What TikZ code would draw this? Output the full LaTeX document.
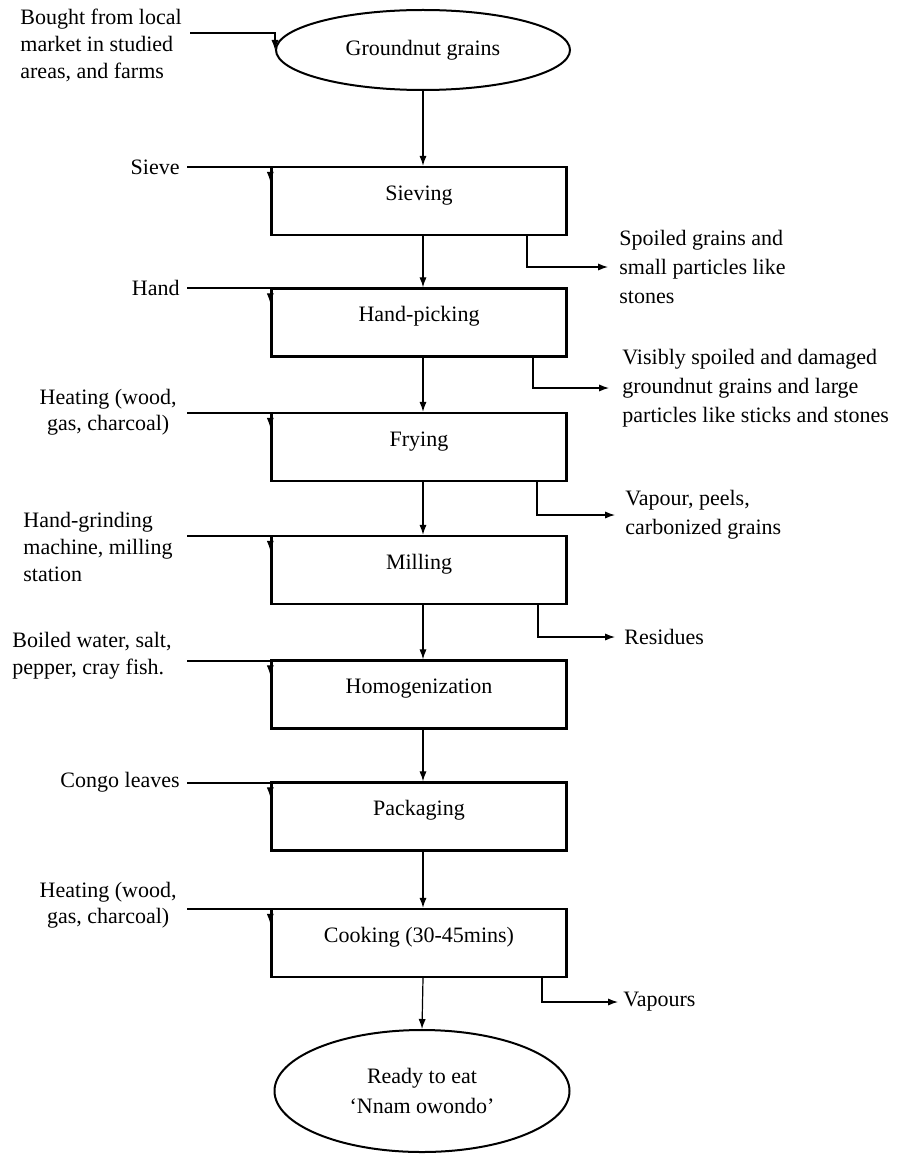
\documentclass[tikz,border=0pt]{standalone}
\usepackage{fontspec}
\setmainfont{Liberation Serif}
\usetikzlibrary{arrows.meta,shapes.geometric}
\begin{document}
\begin{tikzpicture}[x=0.5pt,y=-0.5pt,
  font=\fontsize{11}{14}\selectfont,
  stepbox/.style={draw,line width=1.2pt,rectangle,minimum width=147.5pt,minimum height=34pt,text height=8pt,text depth=9pt,inner sep=0pt},
  oval/.style={draw,line width=1pt,ellipse,inner sep=0pt,align=center},
  arr/.style={line width=0.6pt,-{Latex[length=5pt,width=3.6pt]}},
  lbl/.style={inner sep=0pt},
  lbll/.style={lbl,align=left,font=\fontsize{11}{13.5}\selectfont},
  lblc/.style={lbl,align=center,font=\fontsize{11}{13}\selectfont},
  lblr/.style={lbl,align=left,font=\fontsize{11}{14.5}\selectfont},
]
\useasboundingbox (0,0) rectangle (896,1155);

% main nodes
\node[oval,minimum width=147pt,minimum height=40pt] (gn) at (423,50) {Groundnut grains};
\node[stepbox] (siev) at (419,201) {Sieving};
\node[stepbox] (hp) at (419,322.5) {Hand-picking};
\node[stepbox] (fry) at (419,447) {Frying};
\node[stepbox] (mill) at (419,570) {Milling};
\node[stepbox] (homo) at (419,694.5) {Homogenization};
\node[stepbox] (pack) at (419,816.5) {Packaging};
\node[stepbox] (cook) at (419,943) {Cooking (30-45mins)};
\node[oval,minimum width=147.5pt,minimum height=61pt] (rte) at (422,1091) {Ready to eat\\[1pt]‘Nnam owondo’};

% main flow
\draw[arr] (gn.south) -- (gn.south |- siev.north);
\draw[arr] ([xshift=2pt]siev.south) -- ([xshift=2pt]hp.north);
\draw[arr] ([xshift=2pt]hp.south) -- ([xshift=2pt]fry.north);
\draw[arr] ([xshift=2pt]fry.south) -- ([xshift=2pt]mill.north);
\draw[arr] ([xshift=2pt]mill.south) -- ([xshift=2pt]homo.north);
\draw[arr] ([xshift=2pt]homo.south) -- ([xshift=2pt]pack.north);
\draw[arr] ([xshift=2pt]pack.south) -- ([xshift=2pt]cook.north);
\draw[arr] ([xshift=2pt]cook.south) -- (rte.north);

% inputs (left)
\node[lbll,anchor=west] (in0) at (20,45) {Bought from local\\market in studied\\areas, and farms};
\node[lbl,anchor=east] (in1) at (180,167) {Sieve};
\node[lbl,anchor=east] (in2) at (180,288) {Hand};
\node[lblc,anchor=east] (in3) at (177,412) {Heating (wood,\\gas, charcoal)};
\node[lbll,anchor=west] (in4) at (23,547) {Hand-grinding\\machine, milling\\station};
\node[lbll,anchor=west] (in5) at (12,656) {Boiled water, salt,\\pepper, cray fish.};
\node[lbl,anchor=east] (in6) at (180,782) {Congo leaves};
\node[lblc,anchor=east] (in7) at (177,905) {Heating (wood,\\gas, charcoal)};

\coordinate (c0) at (190,33);
\coordinate (c1) at (187,167);
\coordinate (c2) at (187,288);
\coordinate (c3) at (187,413);
\coordinate (c4) at (187,536);
\coordinate (c5) at (187,661);
\coordinate (c6) at (187,783);
\coordinate (c7) at (187,909);

\draw[arr] (c0) -| (gn.west);
\draw[arr] (c1) -| ([yshift=-8pt]siev.north west);
\draw[arr] (c2) -| ([yshift=-8pt]hp.north west);
\draw[arr] (c3) -| ([yshift=-8pt]fry.north west);
\draw[arr] (c4) -| ([yshift=-8pt]mill.north west);
\draw[arr] (c5) -| ([yshift=-8pt]homo.north west);
\draw[arr] (c6) -| ([yshift=-8pt]pack.north west);
\draw[arr] (c7) -| ([yshift=-8pt]cook.north west);

% outputs (right)
\node[lblr,anchor=west] (out1) at (619,267) {Spoiled grains and\\small particles like\\stones};
\node[lblr,anchor=west] (out2) at (622,388) {Visibly spoiled and damaged\\groundnut grains and large\\particles like sticks and stones};
\node[lblr,anchor=west] (out3) at (625,515) {Vapour, peels,\\carbonized grains};
\node[lbl,anchor=west] (out4) at (624,637) {Residues};
\node[lbl,anchor=west] (out5) at (623,1002) {Vapours};

\draw[arr] ([xshift=54pt]siev.south) |- ([xshift=-5.5pt]out1.west);
\draw[arr] ([xshift=57pt]hp.south) |- ([xshift=-6.5pt]out2.west);
\draw[arr] ([xshift=59pt]fry.south) |- ([xshift=-5pt]out3.west);
\draw[arr] ([xshift=59.5pt]mill.south) |- ([xshift=-4.5pt]out4.west);
\draw[arr] ([xshift=61.5pt]cook.south) |- ([xshift=-2.5pt]out5.west);
\end{tikzpicture}
\end{document}
